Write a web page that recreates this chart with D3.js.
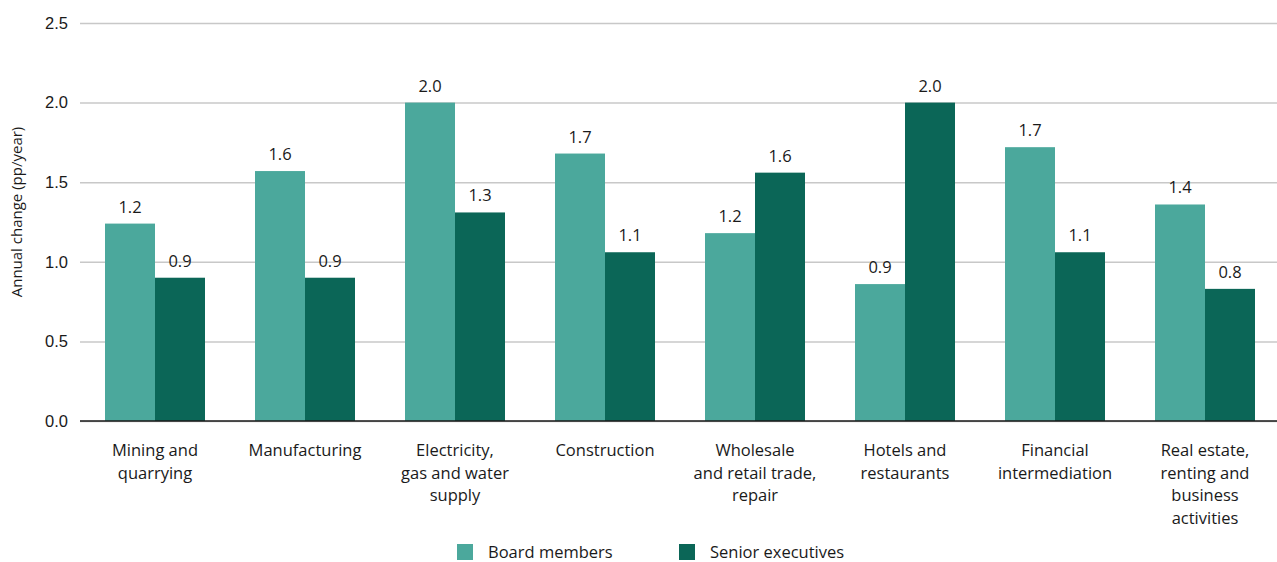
<!DOCTYPE html>
<html>
<head>
<meta charset="utf-8">
<script src="https://cdn.jsdelivr.net/npm/d3@7"></script>
<style>
  html, body { margin: 0; padding: 0; background: #fff; }
  svg { display: block; font-family: "Open Sans", "Noto Sans", sans-serif; }
</style>
</head>
<body>
<svg id="chart" width="1277" height="562"></svg>
<script>
// Industry sectors (line breaks as drawn under the axis)
const categories = [
  ["Mining and", "quarrying"],
  ["Manufacturing"],
  ["Electricity,", "gas and water", "supply"],
  ["Construction"],
  ["Wholesale", "and retail trade,", "repair"],
  ["Hotels and", "restaurants"],
  ["Financial", "intermediation"],
  ["Real estate,", "renting and", "business", "activities"]
];
const seriesNames = ["Board members", "Senior executives"];
const boardMembers     = [1.24, 1.57, 2.00, 1.68, 1.18, 0.86, 1.72, 1.36];
const seniorExecutives = [0.90, 0.90, 1.31, 1.06, 1.56, 2.00, 1.06, 0.83];
const yTicks = [0, 0.5, 1.0, 1.5, 2.0, 2.5];
const yTitle = "Annual change (pp/year)";
const colors = ["#4ba89c", "#0b6657"];

const svg = d3.select("#chart");
const margin = { left: 80, right: 1280, top: 23, bottom: 421 };
const fontSize = "16.5px";

const x0 = d3.scaleBand()
  .domain(d3.range(categories.length))
  .range([margin.left, margin.right])
  .padding(0);
const x1 = d3.scaleBand()
  .domain(d3.range(seriesNames.length))
  .range([0, x0.bandwidth()])
  .paddingInner(0)
  .paddingOuter(0.5);
const y = d3.scaleLinear().domain([0, 2.5]).range([margin.bottom, margin.top]);

// Horizontal gridlines and tick labels
const yAxis = d3.axisLeft(y).tickValues(yTicks).tickFormat(d3.format(".1f"))
  .tickSize(-(1277 - margin.left)).tickPadding(12);
const gy = svg.append("g").attr("transform", `translate(${margin.left},0)`).call(yAxis);
gy.select(".domain").remove();
gy.selectAll(".tick line").attr("stroke", "#c8c8c8").attr("stroke-width", 1.5);
gy.selectAll(".tick text").attr("fill", "#1a1a1a").style("font-size", fontSize);

svg.append("text")
  .attr("transform", `translate(22,212) rotate(-90)`)
  .attr("text-anchor", "middle")
  .attr("fill", "#1a1a1a")
  .style("font-size", "15px")
  .text(yTitle);

// Grouped bars
const rows = categories.map((c, i) => ({ i, values: [boardMembers[i], seniorExecutives[i]] }));
const groups = svg.append("g").selectAll("g").data(rows).join("g")
  .attr("transform", d => `translate(${x0(d.i)},0)`);

groups.selectAll("rect").data(d => d.values.map((v, s) => ({ v, s }))).join("rect")
  .attr("x", d => x1(d.s))
  .attr("width", x1.bandwidth())
  .attr("y", d => y(d.v))
  .attr("height", d => y(0) - y(d.v))
  .attr("fill", d => colors[d.s]);

groups.selectAll("text.value").data(d => d.values.map((v, s) => ({ v, s }))).join("text")
  .attr("class", "value")
  .attr("x", d => x1(d.s) + x1.bandwidth() / 2)
  .attr("y", d => y(d.v) - 11)
  .attr("text-anchor", "middle")
  .attr("fill", "#1a1a1a")
  .style("font-size", fontSize)
  .text(d => d3.format(".1f")(d.v));

// Baseline
svg.append("line")
  .attr("x1", margin.left).attr("x2", 1277)
  .attr("y1", y(0)).attr("y2", y(0))
  .attr("stroke", "#1a1a1a").attr("stroke-width", 1.5);

// Category labels
const catLabels = svg.append("g").selectAll("text").data(categories).join("text")
  .attr("x", (d, i) => x0(i) + x0.bandwidth() / 2)
  .attr("y", 456)
  .attr("text-anchor", "middle")
  .attr("fill", "#1a1a1a")
  .style("font-size", fontSize);
catLabels.selectAll("tspan").data(d => d).join("tspan")
  .attr("x", function () { return d3.select(this.parentNode).attr("x"); })
  .attr("dy", (d, j) => j === 0 ? 0 : 22.5)
  .text(d => d);

// Legend
const legendX = [457, 679];
const legend = svg.append("g").selectAll("g").data(seriesNames).join("g")
  .attr("transform", (d, i) => `translate(${legendX[i]},544)`);
legend.append("rect").attr("width", 16).attr("height", 16).attr("fill", (d, i) => colors[i]);
legend.append("text").attr("x", 31).attr("y", 14)
  .attr("fill", "#1a1a1a").style("font-size", fontSize).text(d => d);
</script>
</body>
</html>
